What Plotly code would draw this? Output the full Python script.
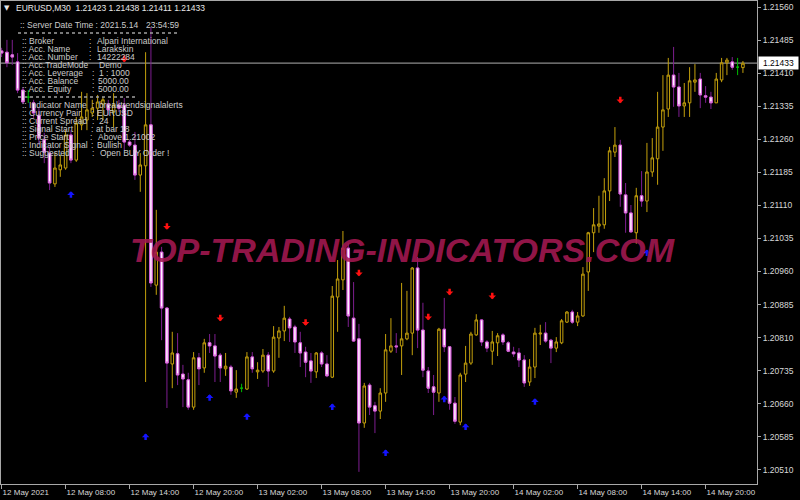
import plotly.graph_objects as go
import pandas as pd

# ---------------- data ----------------
times = pd.date_range("2021-05-12 02:00", periods=140, freq="30min")

opens = [1.21461, 1.21458, 1.21452, 1.21436, 1.21372, 1.21356, 1.21343, 1.21315, 1.21259, 1.21229,
         1.21159, 1.21191, 1.21195, 1.21270, 1.21213, 1.21293, 1.21304, 1.21320, 1.21331, 1.21340,
         1.21340, 1.21322, 1.21338, 1.21338, 1.21254, 1.21247, 1.21179, 1.21200, 1.21293, 1.20929,
         1.21004, 1.20877, 1.20750, 1.20773, 1.20727, 1.20714, 1.20652, 1.20764, 1.20741, 1.20798,
         1.20791, 1.20770, 1.20739, 1.20743, 1.20686, 1.20695, 1.20693, 1.20766, 1.20732, 1.20734,
         1.20770, 1.20734, 1.20809, 1.20825, 1.20852, 1.20834, 1.20798, 1.20777, 1.20757, 1.20732,
         1.20775, 1.20750, 1.20720, 1.20902, 1.20941, 1.21013, 1.20854, 1.20807, 1.20616, 1.20702,
         1.20655, 1.20643, 1.20684, 1.20779, 1.20791, 1.20791, 1.20807, 1.20820, 1.20968, 1.20827,
         1.20734, 1.20698, 1.20684, 1.20829, 1.20789, 1.20661, 1.20618, 1.20727, 1.20752, 1.20816,
         1.20850, 1.20800, 1.20779, 1.20798, 1.20816, 1.20798, 1.20777, 1.20775, 1.20759, 1.20709,
         1.20743, 1.20818, 1.20820, 1.20804, 1.20786, 1.20798, 1.20845, 1.20868, 1.20845, 1.20859,
         1.20959, 1.21048, 1.21063, 1.21066, 1.21143, 1.21231, 1.21247, 1.21134, 1.21093, 1.21048,
         1.21132, 1.21120, 1.21186, 1.21216, 1.21288, 1.21329, 1.21406, 1.21379, 1.21336, 1.21343,
         1.21390, 1.21397, 1.21359, 1.21356, 1.21343, 1.21395, 1.21434, 1.21436, 1.21424, 1.21423]

highs = [1.21468, 1.21486, 1.21486, 1.21456, 1.21379, 1.21372, 1.21350, 1.21331, 1.21275, 1.21243,
         1.21229, 1.21225, 1.21281, 1.21281, 1.21311, 1.21368, 1.21365, 1.21350, 1.21361, 1.21356,
         1.21350, 1.21365, 1.21350, 1.21354, 1.21259, 1.21277, 1.21229, 1.21458, 1.21515, 1.21100,
         1.21016, 1.20879, 1.20823, 1.20820, 1.20748, 1.20730, 1.20777, 1.20775, 1.20807, 1.20818,
         1.20818, 1.20775, 1.20775, 1.20748, 1.20736, 1.20705, 1.20777, 1.20777, 1.20754, 1.20784,
         1.20777, 1.20836, 1.20834, 1.20882, 1.20857, 1.20839, 1.20823, 1.20789, 1.20775, 1.20777,
         1.20779, 1.20770, 1.20927, 1.20986, 1.21052, 1.21025, 1.20936, 1.20841, 1.20707, 1.20707,
         1.20664, 1.20695, 1.20818, 1.20854, 1.20820, 1.20934, 1.20916, 1.20970, 1.20993, 1.20889,
         1.20743, 1.20725, 1.20832, 1.20900, 1.20789, 1.20675, 1.20730, 1.20791, 1.20823, 1.20863,
         1.20852, 1.20804, 1.20825, 1.20820, 1.20820, 1.20802, 1.20789, 1.20786, 1.20770, 1.20761,
         1.20832, 1.20839, 1.20845, 1.20807, 1.20811, 1.20852, 1.20870, 1.20873, 1.20868, 1.20970,
         1.21050, 1.21104, 1.21132, 1.21172, 1.21243, 1.21288, 1.21259, 1.21161, 1.21111, 1.21150,
         1.21188, 1.21252, 1.21263, 1.21368, 1.21406, 1.21445, 1.21470, 1.21411, 1.21388, 1.21424,
         1.21431, 1.21411, 1.21381, 1.21368, 1.21411, 1.21445, 1.21445, 1.21447, 1.21445, 1.21438]

lows = [1.21447, 1.21424, 1.21429, 1.21365, 1.21340, 1.21343, 1.21309, 1.21247, 1.21206, 1.21145,
        1.21152, 1.21175, 1.21191, 1.21206, 1.21209, 1.21281, 1.21281, 1.21311, 1.21304, 1.21304,
        1.21315, 1.21288, 1.21322, 1.21236, 1.21243, 1.21168, 1.21141, 1.20709, 1.20925, 1.20907,
        1.20804, 1.20650, 1.20695, 1.20702, 1.20652, 1.20646, 1.20646, 1.20702, 1.20730, 1.20775,
        1.20709, 1.20709, 1.20723, 1.20680, 1.20673, 1.20686, 1.20691, 1.20730, 1.20716, 1.20730,
        1.20698, 1.20730, 1.20764, 1.20802, 1.20800, 1.20775, 1.20743, 1.20720, 1.20707, 1.20718,
        1.20743, 1.20720, 1.20718, 1.20823, 1.20918, 1.20834, 1.20800, 1.20505, 1.20605, 1.20634,
        1.20593, 1.20625, 1.20664, 1.20775, 1.20775, 1.20725, 1.20804, 1.20770, 1.20786, 1.20720,
        1.20684, 1.20634, 1.20664, 1.20777, 1.20646, 1.20614, 1.20611, 1.20709, 1.20748, 1.20814,
        1.20791, 1.20777, 1.20748, 1.20768, 1.20793, 1.20777, 1.20766, 1.20743, 1.20698, 1.20700,
        1.20718, 1.20793, 1.20798, 1.20752, 1.20777, 1.20795, 1.20843, 1.20841, 1.20836, 1.20857,
        1.20916, 1.21004, 1.21048, 1.21057, 1.21120, 1.21220, 1.21107, 1.21048, 1.21048, 1.21023,
        1.21107, 1.21095, 1.21175, 1.21157, 1.21234, 1.21311, 1.21334, 1.21311, 1.21311, 1.21311,
        1.21368, 1.21331, 1.21343, 1.21329, 1.21343, 1.21390, 1.21406, 1.21418, 1.21406, 1.21411]

closes = [1.21456, 1.21434, 1.21447, 1.21372, 1.21345, 1.21356, 1.21320, 1.21263, 1.21231, 1.21161,
          1.21195, 1.21202, 1.21270, 1.21213, 1.21297, 1.21311, 1.21327, 1.21331, 1.21345, 1.21350,
          1.21327, 1.21338, 1.21331, 1.21254, 1.21247, 1.21179, 1.21202, 1.21293, 1.20934, 1.21004,
          1.20877, 1.20752, 1.20775, 1.20725, 1.20716, 1.20652, 1.20764, 1.20739, 1.20798, 1.20791,
          1.20768, 1.20741, 1.20745, 1.20689, 1.20693, 1.20695, 1.20766, 1.20739, 1.20736, 1.20770,
          1.20734, 1.20811, 1.20825, 1.20854, 1.20832, 1.20800, 1.20775, 1.20754, 1.20734, 1.20775,
          1.20750, 1.20723, 1.20904, 1.20943, 1.21013, 1.20859, 1.20802, 1.20616, 1.20700, 1.20652,
          1.20643, 1.20684, 1.20782, 1.20791, 1.20789, 1.20807, 1.20820, 1.20968, 1.20827, 1.20736,
          1.20695, 1.20686, 1.20829, 1.20789, 1.20661, 1.20620, 1.20725, 1.20752, 1.20818, 1.20850,
          1.20800, 1.20786, 1.20800, 1.20814, 1.20800, 1.20779, 1.20773, 1.20759, 1.20707, 1.20743,
          1.20820, 1.20820, 1.20802, 1.20786, 1.20800, 1.20848, 1.20868, 1.20845, 1.20859, 1.20954,
          1.21048, 1.21066, 1.21068, 1.21143, 1.21234, 1.21247, 1.21136, 1.21093, 1.21050, 1.21132,
          1.21120, 1.21186, 1.21218, 1.21288, 1.21327, 1.21406, 1.21379, 1.21336, 1.21343, 1.21393,
          1.21395, 1.21361, 1.21356, 1.21343, 1.21397, 1.21434, 1.21440, 1.21424, 1.21424, 1.21433]

# signal arrows (bar index, price at arrow tip)
sell_idx = [23, 31, 41, 57, 67, 80, 84, 92, 116]
sell_price = [1.21435, 1.21055, 1.20847, 1.20837, 1.20949, 1.20849, 1.20906, 1.20897, 1.21342]
buy_idx = [13, 27, 39, 46, 62, 72, 83, 87, 100, 121]
buy_price = [1.21142, 1.20592, 1.20681, 1.20638, 1.20660, 1.20556, 1.20678, 1.20615, 1.20672, 1.21010]

tick_times = ["2021-05-12 02:00", "2021-05-12 08:00", "2021-05-12 14:00", "2021-05-12 20:00",
              "2021-05-13 02:00", "2021-05-13 08:00", "2021-05-13 14:00", "2021-05-13 20:00",
              "2021-05-14 02:00", "2021-05-14 08:00", "2021-05-14 14:00", "2021-05-14 20:00"]
tick_labels = ["12 May 2021", "12 May 08:00", "12 May 14:00", "12 May 20:00",
               "13 May 02:00", "13 May 08:00", "13 May 14:00", "13 May 20:00",
               "14 May 02:00", "14 May 08:00", "14 May 14:00", "14 May 20:00"]
price_ticks = ["1.20510", "1.20585", "1.20660", "1.20735", "1.20810", "1.20885", "1.20960",
               "1.21035", "1.21110", "1.21185", "1.21260", "1.21335", "1.21410", "1.21485", "1.21560"]

header = "EURUSD,M30  1.21423 1.21438 1.21411 1.21433"
info_rows = [
    (":: Broker", ":", "Alpari International"),
    (":: Acc. Name", ":", "Larakskin"),
    (":: Acc. Number", ":", "14222284"),
    (":: Acc.TradeMode", ":", "Demo"),
    (":: Acc. Leverage", ":", "1 : 1000"),
    (":: Acc. Balance", ":", "5000.00"),
    (":: Acc. Equity", ":", "5000.00"),
    (":: Indicator Name", ":", "breaktrendsignalalerts"),
    (":: Currency Pair", ":", "EURUSD"),
    (":: Current Spread", ":", "24"),
    (":: Signal Start", ":", "at bar 18"),
    (":: Price Start", ":", "Above 1.21002"),
    (":: Indicator Signal", ":", "Bullish"),
    (":: Suggested", ":", "Open BUY Order !"),
]
server_time = (":: Server Date Time : 2021.5.14", "23:54:59")
watermark = "TOP-TRADING-INDICATORS.COM"

# ---------------- styling ----------------
GOLD = "#C4A00C"
BEAR_WICK = "#7E1E90"
BEAR_EDGE = "#D860D8"
BEAR_FILL = "#FFF2FF"
DOJI = "#00BB00"
TXT = "#D8D8D8"
INFO = "#CCCCCC"
FONT = "Liberation Sans"

W, H = 800, 500
ML, MR, MT, MB = 1, 43, 1, 16
PW, PH = W - ML - MR, H - MT - MB


def px(x):
    return (x - ML) / PW


def py(y):
    return 1 - (y - MT) / PH


is_doji = [o == c for o, c in zip(opens, closes)]
is_bear = [c < o for o, c in zip(opens, closes)]

fig = go.Figure()

# all candles (bear bodies drawn purple here; only their wicks stay visible)
fig.add_trace(go.Candlestick(
    x=times,
    open=[None if d else v for v, d in zip(opens, is_doji)],
    high=[None if d else v for v, d in zip(highs, is_doji)],
    low=[None if d else v for v, d in zip(lows, is_doji)],
    close=[None if d else v for v, d in zip(closes, is_doji)],
    increasing=dict(line=dict(color=GOLD, width=1), fillcolor="#000000"),
    decreasing=dict(line=dict(color=BEAR_WICK, width=1), fillcolor=BEAR_WICK),
    hoverinfo="skip",
))
# bear bodies (white with pink edge)
fig.add_trace(go.Candlestick(
    x=times,
    open=[o if b else None for o, b in zip(opens, is_bear)],
    high=[o if b else None for o, b in zip(opens, is_bear)],
    low=[c if b else None for c, b in zip(closes, is_bear)],
    close=[c if b else None for c, b in zip(closes, is_bear)],
    increasing=dict(line=dict(color=BEAR_EDGE, width=1), fillcolor=BEAR_FILL),
    decreasing=dict(line=dict(color=BEAR_EDGE, width=1), fillcolor=BEAR_FILL),
    hoverinfo="skip",
))
# doji candles (green)
fig.add_trace(go.Candlestick(
    x=times,
    open=[v if d else None for v, d in zip(opens, is_doji)],
    high=[v if d else None for v, d in zip(highs, is_doji)],
    low=[v if d else None for v, d in zip(lows, is_doji)],
    close=[v if d else None for v, d in zip(closes, is_doji)],
    increasing=dict(line=dict(color=DOJI, width=1), fillcolor=DOJI),
    decreasing=dict(line=dict(color=DOJI, width=1), fillcolor=DOJI),
    hoverinfo="skip",
))

annotations = []

# arrows
for i, p in zip(sell_idx, sell_price):
    annotations.append(dict(x=times[i], y=p, xref="x", yref="y", text="", showarrow=True,
                            ax=0, ay=-8, arrowhead=1, arrowsize=0.5, arrowwidth=2.5,
                            arrowcolor="#FF1010"))
for i, p in zip(buy_idx, buy_price):
    annotations.append(dict(x=times[i], y=p, xref="x", yref="y", text="", showarrow=True,
                            ax=0, ay=8, arrowhead=1, arrowsize=0.5, arrowwidth=2.5,
                            arrowcolor="#1414FF"))

# watermark
annotations.append(dict(x=px(402), y=py(250), xref="paper", yref="paper",
                        text="<b><i>" + watermark + "</i></b>", showarrow=False,
                        xanchor="center", yanchor="middle",
                        font=dict(family=FONT, size=34, color="rgba(165,24,82,0.9)")))

# header
annotations.append(dict(x=px(2), y=py(8), xref="paper", yref="paper", text="▼",
                        showarrow=False, xanchor="left", yanchor="middle",
                        font=dict(family="DejaVu Sans", size=7, color="#E8E8E8")))
annotations.append(dict(x=px(14), y=py(8), xref="paper", yref="paper", text=header,
                        showarrow=False, xanchor="left", yanchor="middle",
                        font=dict(family=FONT, size=8.5, color="#E8E8E8")))

# info panel
annotations.append(dict(x=px(18), y=py(25), xref="paper", yref="paper", text=server_time[0],
                        showarrow=False, xanchor="left", yanchor="middle",
                        font=dict(family=FONT, size=8.5, color=INFO)))
annotations.append(dict(x=px(144), y=py(25), xref="paper", yref="paper", text=server_time[1],
                        showarrow=False, xanchor="left", yanchor="middle",
                        font=dict(family=FONT, size=8.5, color=INFO)))
row_y = [41, 49, 57, 65, 73, 81, 89, 105, 113, 121, 129, 137, 145, 153]
colon_x = [87, 87, 87, 83, 90, 90, 90, 90, 90, 90, 89, 88, 89, 90]
value_x = [95, 95, 95, 97, 97, 96, 96, 97, 95, 97, 94, 96, 95, 98]
for (lab, col, val), yy, cx, vx in zip(info_rows, row_y, colon_x, value_x):
    for t, xx in ((lab, 20), (col, cx), (val, vx)):
        annotations.append(dict(x=px(xx), y=py(yy), xref="paper", yref="paper", text=t,
                                showarrow=False, xanchor="left", yanchor="middle",
                                font=dict(family=FONT, size=8.5, color=INFO)))

# current price label
annotations.append(dict(x=1, y=closes[-1], xref="paper", yref="y", text=f"{closes[-1]:.5f}",
                        showarrow=False, xanchor="left", yanchor="middle", xshift=1,
                        bgcolor="#FFFFFF", borderpad=1, width=37, align="center",
                        font=dict(family=FONT, size=8.5, color="#000000")))

shapes = [
    dict(type="line", xref="paper", yref="y", x0=0, x1=1, y0=closes[-1], y1=closes[-1],
         line=dict(color="#8C8C8C", width=1.2), layer="below"),
    dict(type="line", xref="paper", yref="paper", x0=px(18), x1=px(178), y0=py(33), y1=py(33),
         line=dict(color="#A0A0A0", width=1.5, dash="dot")),
    dict(type="line", xref="paper", yref="paper", x0=px(18), x1=px(135), y0=py(97), y1=py(97),
         line=dict(color="#A0A0A0", width=1.5, dash="dot")),
]

fig.update_layout(
    width=W, height=H,
    margin=dict(l=ML, r=MR, t=MT, b=MB),
    paper_bgcolor="#000000", plot_bgcolor="#000000",
    showlegend=False,
    boxgap=0.32,
    annotations=annotations,
    shapes=shapes,
    xaxis=dict(
        type="date",
        range=["2021-05-12 01:56:37", "2021-05-15 00:49:07"],
        rangeslider=dict(visible=False),
        showgrid=False, zeroline=False,
        showline=True, mirror=True, linecolor="#A8A8A8", linewidth=1,
        tickmode="array", tickvals=tick_times, ticktext=tick_labels,
        ticks="outside", ticklen=4, tickcolor="#A8A8A8",
        ticklabelposition="outside right",
        tickfont=dict(family=FONT, size=8, color=TXT),
    ),
    yaxis=dict(
        side="right",
        range=[1.204774, 1.215743],
        showgrid=False, zeroline=False,
        showline=True, mirror=True, linecolor="#A8A8A8", linewidth=1,
        tickmode="array", tickvals=[float(v) for v in price_ticks], ticktext=price_ticks,
        ticks="outside", ticklen=3, tickcolor="#A8A8A8",
        tickfont=dict(family=FONT, size=8.5, color=TXT),
    ),
)

fig.write_html("out.html",
               config={"displayModeBar": False},
               post_script="document.body.style.margin='0';document.body.style.background='#000';")
